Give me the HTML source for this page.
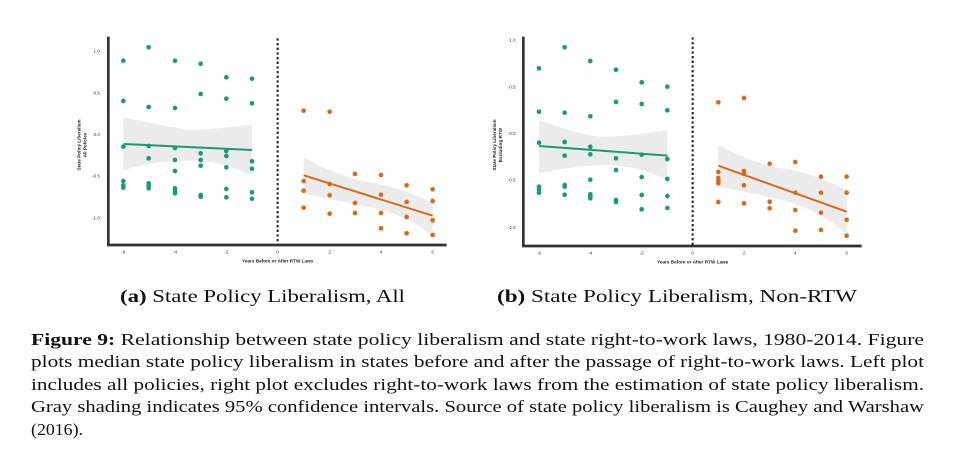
<!DOCTYPE html>
<html><head><meta charset="utf-8"><style>
html,body{margin:0;padding:0;background:#fff;width:975px;height:469px;overflow:hidden}
svg{display:block}
.tk{font-family:"Liberation Sans",sans-serif;font-size:14px;fill:#333}
.at{font-family:"Liberation Sans",sans-serif;font-size:14px;font-weight:bold;fill:#222}
.cap{font-family:"Liberation Serif",serif;font-size:18px;fill:#111}
</style></head><body>
<svg width="975" height="469" viewBox="0 0 975 469" xmlns="http://www.w3.org/2000/svg">
<g transform="translate(60,30) scale(0.33333)">
 <path d="M190,262 C300,285 380,300 383,300 C450,300 520,290 576,283 L576,437 C500,400 450,392 383,392 C300,392 250,405 190,420 Z" fill="#ececec"/>
 <line x1="190" y1="342" x2="576" y2="360" stroke="#1a9a76" stroke-width="6"/>
 <path d="M731,382 C800,420 880,452 925,455 C1000,470 1060,490 1118,518 L1118,618 C1060,570 1000,545 925,530 C850,515 780,500 731,490 Z" fill="#ececec"/>
 <line x1="731" y1="436" x2="1118" y2="557" stroke="#d9691c" stroke-width="6"/>
 <g fill="#1a9a76">
  <circle cx="190" cy="92" r="7"/><circle cx="190" cy="213" r="7"/><circle cx="190" cy="350" r="7"/><circle cx="190" cy="453" r="7"/><circle cx="190" cy="466" r="7"/><circle cx="190" cy="473" r="7"/>
  <circle cx="266" cy="52" r="7"/><circle cx="266" cy="231" r="7"/><circle cx="266" cy="348" r="7"/><circle cx="266" cy="385" r="7"/><circle cx="266" cy="460" r="7"/><circle cx="266" cy="468" r="7"/><circle cx="266" cy="475" r="7"/>
  <circle cx="345" cy="92" r="7"/><circle cx="345" cy="234" r="7"/><circle cx="345" cy="354" r="7"/><circle cx="345" cy="390" r="7"/><circle cx="345" cy="423" r="7"/><circle cx="345" cy="475" r="7"/><circle cx="345" cy="483" r="7"/><circle cx="345" cy="490" r="7"/>
  <circle cx="422" cy="101" r="7"/><circle cx="422" cy="192" r="7"/><circle cx="422" cy="370" r="7"/><circle cx="422" cy="390" r="7"/><circle cx="422" cy="407" r="7"/><circle cx="422" cy="495" r="7"/><circle cx="422" cy="500" r="7"/>
  <circle cx="499" cy="142" r="7"/><circle cx="499" cy="206" r="7"/><circle cx="499" cy="363" r="7"/><circle cx="499" cy="378" r="7"/><circle cx="499" cy="412" r="7"/><circle cx="499" cy="477" r="7"/><circle cx="499" cy="502" r="7"/>
  <circle cx="576" cy="146" r="7"/><circle cx="576" cy="220" r="7"/><circle cx="576" cy="394" r="7"/><circle cx="576" cy="416" r="7"/><circle cx="576" cy="487" r="7"/><circle cx="576" cy="506" r="7"/>
 </g>
 <g fill="#d9691c">
  <circle cx="731" cy="242" r="7"/><circle cx="731" cy="453" r="7"/><circle cx="731" cy="482" r="7"/><circle cx="731" cy="533" r="7"/>
  <circle cx="809" cy="245" r="7"/><circle cx="809" cy="462" r="7"/><circle cx="809" cy="496" r="7"/><circle cx="809" cy="551" r="7"/>
  <circle cx="885" cy="432" r="7"/><circle cx="885" cy="519" r="7"/><circle cx="885" cy="549" r="7"/>
  <circle cx="963" cy="435" r="7"/><circle cx="963" cy="494" r="7"/><circle cx="963" cy="549" r="7"/><circle cx="963" cy="595" r="7"/>
  <circle cx="1040" cy="466" r="7"/><circle cx="1040" cy="516" r="7"/><circle cx="1040" cy="561" r="7"/><circle cx="1040" cy="610" r="7"/>
  <circle cx="1118" cy="478" r="7"/><circle cx="1118" cy="513" r="7"/><circle cx="1118" cy="571" r="7"/><circle cx="1118" cy="615" r="7"/>
 </g>
 <line x1="653" y1="25" x2="653" y2="645" stroke="#222" stroke-width="6" stroke-dasharray="7,7"/>
 <polyline points="145,20 145,645 1160,645" fill="none" stroke="#333" stroke-width="8"/>
 <g class="tk" text-anchor="end"><text x="120" y="68">1.0</text><text x="120" y="193">0.5</text><text x="120" y="318">0.0</text><text x="120" y="443">-0.5</text><text x="120" y="568">-1.0</text></g>
 <g class="tk" text-anchor="middle"><text x="190" y="670">-6</text><text x="345" y="670">-4</text><text x="499" y="670">-2</text><text x="653" y="670">0</text><text x="809" y="670">2</text><text x="963" y="670">4</text><text x="1118" y="670">6</text></g>
 <text class="at" x="653" y="697" text-anchor="middle">Years Before or After RTW Laws</text>
 <text class="at" transform="translate(62,345) rotate(-90)" text-anchor="middle">State Policy Liberalism</text>
 <text class="at" transform="translate(80,345) rotate(-90)" text-anchor="middle">All Policies</text>
</g>
<g transform="translate(480,30) scale(0.33333)">
 <path d="M177,270 C260,300 330,320 370,320 C450,320 520,305 562,300 L562,450 C500,420 440,405 370,405 C300,405 230,420 177,430 Z" fill="#ececec"/>
 <line x1="177" y1="348" x2="562" y2="377" stroke="#1a9a76" stroke-width="6"/>
 <path d="M715,345 C780,380 860,410 908,415 C980,425 1050,455 1100,480 L1100,612 C1040,560 980,530 908,510 C840,495 770,480 715,470 Z" fill="#ececec"/>
 <line x1="715" y1="407" x2="1100" y2="545" stroke="#d9691c" stroke-width="6"/>
 <g fill="#1a9a76">
  <circle cx="177" cy="115" r="7"/><circle cx="177" cy="245" r="7"/><circle cx="177" cy="338" r="7"/><circle cx="177" cy="470" r="7"/><circle cx="177" cy="478" r="7"/><circle cx="177" cy="488" r="7"/>
  <circle cx="254" cy="52" r="7"/><circle cx="254" cy="248" r="7"/><circle cx="254" cy="336" r="7"/><circle cx="254" cy="377" r="7"/><circle cx="254" cy="465" r="7"/><circle cx="254" cy="470" r="7"/><circle cx="254" cy="494" r="7"/>
  <circle cx="331" cy="93" r="7"/><circle cx="331" cy="259" r="7"/><circle cx="331" cy="350" r="7"/><circle cx="331" cy="373" r="7"/><circle cx="331" cy="449" r="7"/><circle cx="331" cy="493" r="7"/><circle cx="331" cy="500" r="7"/><circle cx="331" cy="505" r="7"/>
  <circle cx="408" cy="119" r="7"/><circle cx="408" cy="216" r="7"/><circle cx="408" cy="385" r="7"/><circle cx="408" cy="420" r="7"/><circle cx="408" cy="510" r="7"/><circle cx="408" cy="516" r="7"/>
  <circle cx="485" cy="157" r="7"/><circle cx="485" cy="222" r="7"/><circle cx="485" cy="374" r="7"/><circle cx="485" cy="441" r="7"/><circle cx="485" cy="495" r="7"/><circle cx="485" cy="538" r="7"/>
  <circle cx="562" cy="170" r="7"/><circle cx="562" cy="241" r="7"/><circle cx="562" cy="387" r="7"/><circle cx="562" cy="447" r="7"/><circle cx="562" cy="498" r="7"/><circle cx="562" cy="534" r="7"/>
 </g>
 <g fill="#d9691c">
  <circle cx="715" cy="217" r="7"/><circle cx="715" cy="426" r="7"/><circle cx="715" cy="444" r="7"/><circle cx="715" cy="452" r="7"/><circle cx="715" cy="460" r="7"/><circle cx="715" cy="516" r="7"/>
  <circle cx="792" cy="204" r="7"/><circle cx="792" cy="423" r="7"/><circle cx="792" cy="432" r="7"/><circle cx="792" cy="466" r="7"/><circle cx="792" cy="520" r="7"/>
  <circle cx="869" cy="401" r="7"/><circle cx="869" cy="515" r="7"/><circle cx="869" cy="535" r="7"/>
  <circle cx="946" cy="396" r="7"/><circle cx="946" cy="488" r="7"/><circle cx="946" cy="540" r="7"/><circle cx="946" cy="602" r="7"/>
  <circle cx="1023" cy="440" r="7"/><circle cx="1023" cy="488" r="7"/><circle cx="1023" cy="548" r="7"/><circle cx="1023" cy="600" r="7"/>
  <circle cx="1100" cy="440" r="7"/><circle cx="1100" cy="488" r="7"/><circle cx="1100" cy="569" r="7"/><circle cx="1100" cy="617" r="7"/>
 </g>
 <line x1="638" y1="22" x2="638" y2="648" stroke="#222" stroke-width="6" stroke-dasharray="7,7"/>
 <polyline points="130,20 130,648 1145,648" fill="none" stroke="#333" stroke-width="8"/>
 <g class="tk" text-anchor="end"><text x="107" y="35">1.0</text><text x="107" y="175">0.5</text><text x="107" y="315">0.0</text><text x="107" y="455">-0.5</text><text x="107" y="597">-1.0</text></g>
 <g class="tk" text-anchor="middle"><text x="177" y="674">-6</text><text x="331" y="674">-4</text><text x="485" y="674">-2</text><text x="638" y="674">0</text><text x="792" y="674">2</text><text x="946" y="674">4</text><text x="1100" y="674">6</text></g>
 <text class="at" x="638" y="700" text-anchor="middle">Years Before or After RTW Laws</text>
 <text class="at" transform="translate(48,345) rotate(-90)" text-anchor="middle">State Policy Liberalism</text>
 <text class="at" transform="translate(66,345) rotate(-90)" text-anchor="middle">Excluding RTW</text>
</g>
<text class="cap" x="120" y="302" textLength="285" lengthAdjust="spacingAndGlyphs"><tspan font-weight="bold">(a)</tspan> State Policy Liberalism, All</text>
<text class="cap" x="497" y="302" textLength="360" lengthAdjust="spacingAndGlyphs"><tspan font-weight="bold">(b)</tspan> State Policy Liberalism, Non-RTW</text>
<g class="cap" style="font-size:17px">
<text x="31" y="345" textLength="893" lengthAdjust="spacingAndGlyphs"><tspan font-weight="bold">Figure 9:</tspan>  Relationship between state policy liberalism and state right-to-work laws, 1980-2014.  Figure</text>
<text x="31" y="367" textLength="893" lengthAdjust="spacingAndGlyphs">plots median state policy liberalism in states before and after the passage of right-to-work laws.  Left plot</text>
<text x="31" y="390" textLength="893" lengthAdjust="spacingAndGlyphs">includes all policies, right plot excludes right-to-work laws from the estimation of state policy liberalism.</text>
<text x="31" y="412" textLength="893" lengthAdjust="spacingAndGlyphs">Gray shading indicates 95% confidence intervals. Source of state policy liberalism is Caughey and Warshaw</text>
<text x="31" y="435" textLength="52" lengthAdjust="spacingAndGlyphs">(2016).</text>
</g>
</svg>
</body></html>
